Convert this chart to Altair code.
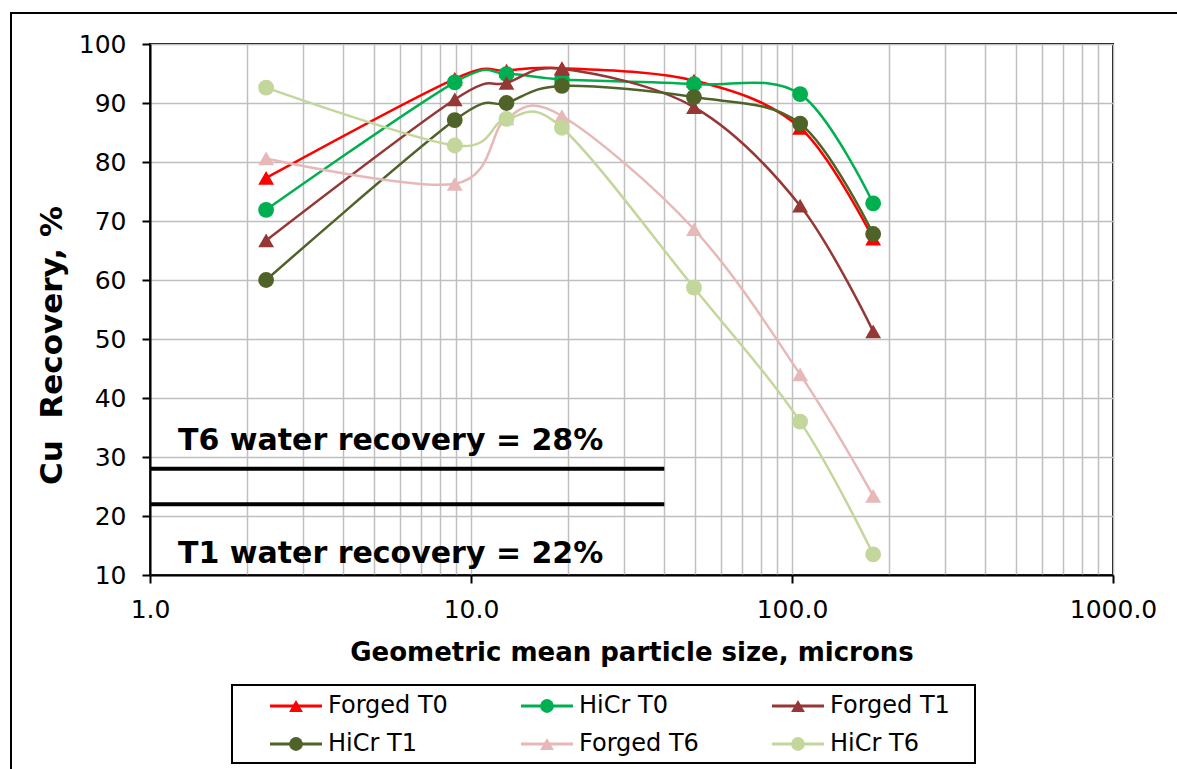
import altair as alt
import pandas as pd

# ---- data -----------------------------------------------------------------
series_names = ["Forged T0", "HiCr T0", "Forged T1", "HiCr T1", "Forged T6", "HiCr T6"]
series_colors = ["#FF0000", "#00B050", "#953735", "#4F6228", "#E6B9B8", "#C3D69B"]
series_markers = ["triangle-up", "circle", "triangle-up", "circle", "triangle-up", "circle"]

# geometric mean particle size of each size class, microns
particle_size = [2.3, 8.9, 12.9, 19.2, 49.5, 106.0, 179.0]

# Cu recovery (%) per size class
forged_t0 = [77.3, 94.1, 95.5, 95.9, 93.8, 85.8, 67.0]
hicr_t0 = [71.9, 93.5, 94.9, 94.0, 93.2, 91.5, 73.0]
forged_t1 = [66.7, 90.6, 93.4, 95.8, 89.3, 72.6, 51.3]
hicr_t1 = [60.0, 87.1, 90.0, 92.9, 91.0, 86.5, 67.8]
forged_t6 = [80.6, 76.3, 87.4, 87.8, 68.6, 44.0, 23.4]
hicr_t6 = [92.6, 82.8, 87.3, 85.8, 58.7, 36.0, 13.5]

water_labels = ["T6 water recovery = 28%", "T1 water recovery = 22%"]
water_values = [28, 22]
water_x_range = [1.0, 40.0]

x_decades = [1, 10, 100, 1000]
x_grid_values = [m * 10 ** e for e in range(3) for m in range(1, 10)] + [1000]
y_tick_values = list(range(10, 101, 10))

# ---- tables ---------------------------------------------------------------
recovery = [forged_t0, hicr_t0, forged_t1, hicr_t1, forged_t6, hicr_t6]
rows = []
for name, vals in zip(series_names, recovery):
    for s, v in zip(particle_size, vals):
        rows.append({"series": name, "size": s, "recovery": v})
df = pd.DataFrame(rows)

water_df = pd.DataFrame({
    "label": water_labels,
    "value": water_values,
    "x0": [water_x_range[0]] * len(water_values),
    "x1": [water_x_range[1]] * len(water_values),
})

legend_df = pd.DataFrame({
    "series": series_names,
    "col": [i % 3 for i in range(len(series_names))],
    "row": [i // 3 for i in range(len(series_names))],
})
one_row = pd.DataFrame({"k": [0]})

FONT = "DejaVu Sans"

# ---- scales & axes --------------------------------------------------------
x_scale = alt.Scale(type="log", domain=[1, 1000], nice=False)
y_scale = alt.Scale(domain=[10, 100], nice=False, zero=False)
color_scale = alt.Scale(domain=series_names, range=series_colors)
shape_scale = alt.Scale(domain=series_names, range=series_markers)

decade_list = ", ".join(str(d) for d in x_decades)
is_decade = f"indexof([{decade_list}], datum.value) >= 0"
x_axis = alt.Axis(
    values=x_grid_values,
    title="Geometric mean particle size, microns",
    labelExpr=f"{is_decade} ? format(datum.value, '.1f') : ''",
    tickOpacity={"condition": {"test": is_decade, "value": 1}, "value": 0},
    labelOverlap=False,
    labelFlush=False,
    labelPadding=14,
    titleY=77,
    titleBaseline="middle",
)
y_axis = alt.Axis(
    values=y_tick_values,
    title="Cu\u00a0 Recovery, %",
    labelFlush=False,
    labelPadding=16,
    titleX=-98,
    titleY=301,
    titleAngle=270,
    titleAlign="center",
    titleBaseline="middle",
    titleFontSize=31,
)

# ---- series: line then markers, one series at a time ----------------------
layers = []
base = alt.Chart(df)
for i, name in enumerate(series_names):
    sub = base.transform_filter(alt.datum.series == name)
    enc = dict(
        x=alt.X("size:Q", scale=x_scale, axis=x_axis if i == 0 else None),
        y=alt.Y("recovery:Q", scale=y_scale, axis=y_axis if i == 0 else None),
        color=alt.Color("series:N", scale=color_scale, legend=None),
    )
    layers.append(sub.mark_line(interpolate="cardinal", strokeWidth=2.5).encode(**enc))
    pt_enc = dict(enc)
    pt_enc["x"] = alt.X("size:Q", scale=x_scale, axis=None)
    pt_enc["y"] = alt.Y("recovery:Q", scale=y_scale, axis=None)
    layers.append(
        sub.mark_point(filled=True, opacity=1, size=250).encode(
            shape=alt.Shape("series:N", scale=shape_scale, legend=None), **pt_enc
        )
    )

# ---- water recovery reference lines ---------------------------------------
water = alt.Chart(water_df)
water_enc = dict(
    x=alt.X("x0:Q", scale=x_scale, axis=None),
    y=alt.Y("value:Q", scale=y_scale, axis=None),
)
water_rules = water.mark_rule(color="black", strokeWidth=4).encode(x2="x1:Q", **water_enc)
text_style = dict(align="left", baseline="alphabetic", dx=28, fontSize=30,
                  fontWeight="bold", font=FONT, color="black")
t6_text = water.transform_filter(alt.datum.label == water_labels[0]).mark_text(
    dy=-19, **text_style).encode(text="label:N", **water_enc)
t1_text = water.transform_filter(alt.datum.label == water_labels[1]).mark_text(
    dy=59, **text_style).encode(text="label:N", **water_enc)

# ---- legend (two rows of three), on its own pixel-ranged scales -----------
lx = alt.Scale(domain=[0, 2], range=[120, 622])
ly = alt.Scale(domain=[0, 1], range=[662, 700])
leg = alt.Chart(legend_df)
leg_enc = dict(
    x=alt.X("col:Q", scale=lx, axis=None),
    y=alt.Y("row:Q", scale=ly, axis=None),
)
leg_lines = leg.mark_rule(strokeWidth=3, x2Offset=52).encode(
    x2="col:Q", color=alt.Color("series:N", scale=color_scale, legend=None), **leg_enc)
leg_marks = leg.mark_point(filled=True, opacity=1, size=190, xOffset=26).encode(
    color=alt.Color("series:N", scale=color_scale, legend=None),
    shape=alt.Shape("series:N", scale=shape_scale, legend=None),
    **leg_enc,
)
leg_labels = leg.mark_text(align="left", baseline="middle", dx=58, fontSize=24,
                           font=FONT, color="black").encode(text="series:N", **leg_enc)

leg_box = alt.Chart(one_row).mark_rect(filled=False, stroke="black", strokeWidth=2).encode(
    x=alt.value(82), x2=alt.value(825), y=alt.value(641), y2=alt.value(719))
outer_frame = alt.Chart(one_row).mark_rect(filled=False, stroke="black", strokeWidth=2).encode(
    x=alt.value(-139), x2=alt.value(1035), y=alt.value(-31), y2=alt.value(735))

chart = (
    alt.layer(*layers, water_rules, t6_text, t1_text,
              leg_lines, leg_marks, leg_labels, leg_box, outer_frame)
    .resolve_scale(x="independent", y="independent")
    .properties(
        width=963,
        height=531,
        autosize=alt.AutoSizeParams(type="none"),
        padding={"left": 150, "top": 44, "right": 64, "bottom": 194},
    )
    .configure_view(stroke="black", strokeWidth=2)
    .configure_axis(
        gridColor="#BFBFBF",
        gridWidth=1.5,
        domainColor="black",
        domainWidth=2,
        tickColor="black",
        tickWidth=2,
        tickSize=8,
        labelColor="black",
        titleColor="black",
        labelFont=FONT,
        titleFont=FONT,
        labelFontSize=25,
        titleFontSize=26,
        titleFontWeight="bold",
    )
)

chart.save("out.html", embed_options={"renderer": "svg", "actions": False})
